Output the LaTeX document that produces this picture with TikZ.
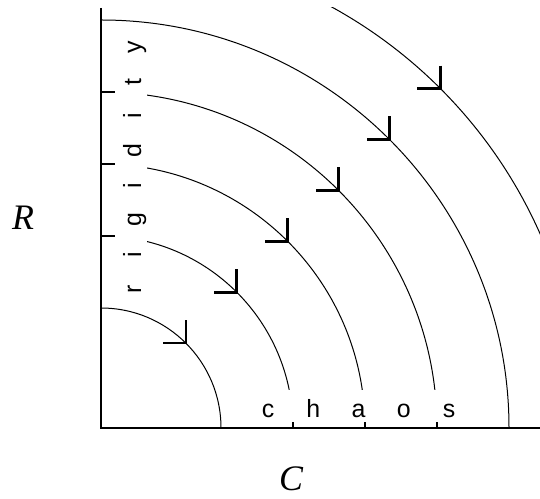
\documentclass[tikz,border=0pt]{standalone}
\usepackage{fontspec}
\setmainfont{Liberation Serif}
\newfontfamily\labfont{Liberation Sans}
\begin{document}
\begin{tikzpicture}[x=1bp,y=1bp,
  axis/.style={line width=1.1bp},
  level/.style={line width=1bp},
  flow/.style={line width=2.7bp, line cap=butt, line join=miter},
  letter/.style={font=\labfont\fontsize{25}{29}\selectfont, inner sep=0pt, anchor=base},
  varname/.style={font=\itshape\fontsize{36}{40}\selectfont, inner sep=0pt, anchor=base}]
\useasboundingbox (0,0) rectangle (540,499);
% axes
\coordinate (O) at (101,71);
\coordinate (top) at (101,491);
\coordinate (right) at (540,71);
\draw[axis] (top) -- (O) -- (right);
% tick marks on both axes
\foreach \r in {192,264,336} {
  \draw[axis] (101,71+\r) -- ++(14,0);
  \draw[axis] (101+\r,71) -- ++(0,5.5);
}
% level curves (quarter circles about the origin)
\draw[level] (221,71) arc[start angle=0,end angle=90,radius=120];
\draw[level] (509,71) arc[start angle=0,end angle=90,radius=408];
\begin{scope}
  \clip (147,109) rectangle (540,499);
  \foreach \r in {192,264,336}
    \draw[level] (101+\r,71) arc[start angle=0,end angle=90,radius=\r];
\end{scope}
\begin{scope}
  \clip (0,0) rectangle (540,491);
  \draw[level] (581,71) arc[start angle=0,end angle=90,radius=480];
\end{scope}
% flow markers at 45 degrees on every curve
\foreach \r [count=\i] in {120,192,264,336,408,480} {
  \coordinate (m\i) at ([shift={(45:\r)}]O);
  \draw[flow] ([shift={(0,23)}]m\i) -- (m\i) -- ([shift={(-23,0)}]m\i);
}
% axis words, letter-spaced
\foreach \l [count=\i] in {r,i,g,i,d,i,t,y}
  \node[letter, rotate=90] (rig\i) at (141,{210+34.57*(\i-1)}) {\l};
\foreach \l [count=\i] in {c,h,a,o,s}
  \node[letter] (cha\i) at ({268+45.25*(\i-1)},81.7) {\l};
% axis variables
\node[varname] (R) at (23,269) {R};
\node[varname] (C) at (291,8) {C};
\end{tikzpicture}
\end{document}
